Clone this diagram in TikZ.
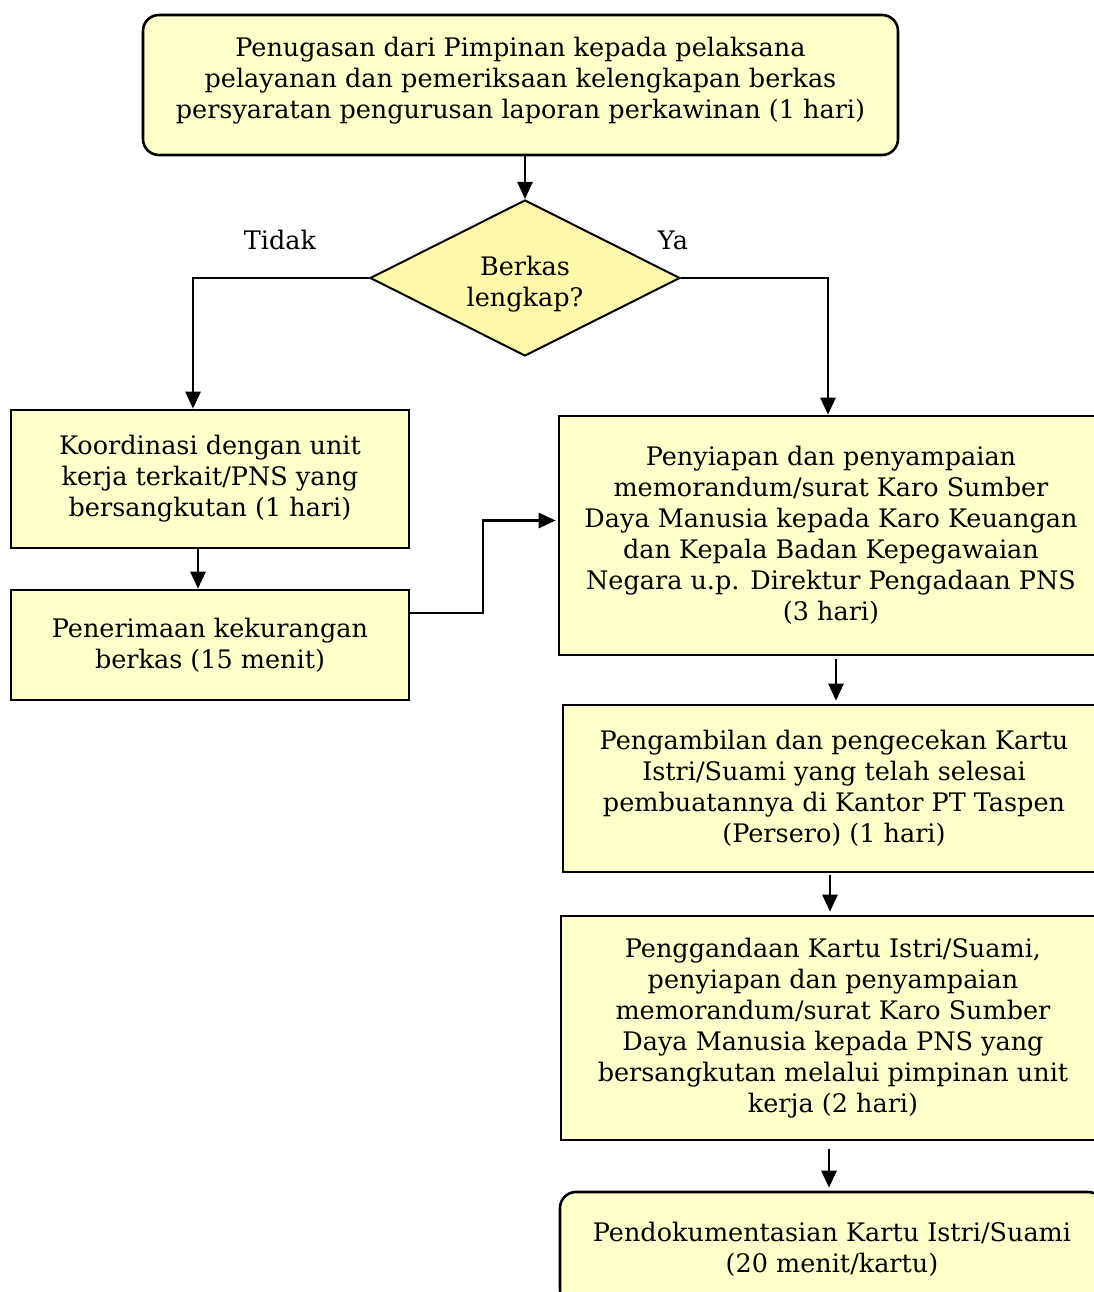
\documentclass[tikz,border=0pt]{standalone}
\usepackage{fontspec}
\setmainfont{DejaVu Serif}
\usetikzlibrary{arrows.meta,shapes.geometric}
\definecolor{boxfill}{RGB}{255,255,204}
\definecolor{dfill}{RGB}{255,248,170}
\newcommand{\diafont}{\fontsize{25.5}{31}\selectfont}
\tikzset{
  box/.style={draw=black, line width=2.6pt, fill=boxfill, align=center, inner sep=0pt,
    font=\diafont},
  rbox/.style={box, rounded corners=16pt},
  dec/.style={draw=black, line width=2pt, fill=dfill, diamond, aspect=2, inner sep=0pt},
  lab/.style={font=\diafont, inner sep=0pt, align=center},
  conn/.style={draw=black, line width=2.6pt, -{Triangle[length=17pt,width=15pt]}}
}
\begin{document}
\begin{tikzpicture}[x=1pt,y=-1pt]
\path[use as bounding box, clip] (0,0) rectangle (1094,1292);
\fill[white] (0,0) rectangle (1094,1292);

\node[rbox, minimum width=755pt, minimum height=140pt] (t) at (520.5,85) {};
\node[lab] (ttext) at (520.5,81)
  {Penugasan dari Pimpinan kepada pelaksana\\pelayanan dan pemeriksaan kelengkapan berkas\\persyaratan pengurusan laporan perkawinan (1 hari)};

\node[dec, minimum width=310pt, minimum height=156pt] (d) at (525,278) {};
\node[lab] (dtext) at (525,284) {Berkas\\lengkap?};

\node[lab] (tidak) at (280,240) {Tidak};
\node[lab] (ya) at (673,240) {Ya};

\node[box, minimum width=398pt, minimum height=138pt] (k) at (210,479)
  {Koordinasi dengan unit\\kerja terkait/PNS yang\\bersangkutan (1 hari)};
\node[box, minimum width=398pt, minimum height=110pt] (b2) at (210,645)
  {Penerimaan kekurangan\\berkas (15 menit)};

\node[box, minimum width=544pt, minimum height=239pt] (r1) at (831,535.5)
  {Penyiapan dan penyampaian\\memorandum/surat Karo Sumber\\Daya Manusia kepada Karo Keuangan\\dan Kepala Badan Kepegawaian\\Negara u.p. Direktur Pengadaan PNS\\(3 hari)};
\node[box, minimum width=542pt, minimum height=167pt] (r2) at (834,788.5)
  {Pengambilan dan pengecekan Kartu\\Istri/Suami yang telah selesai\\pembuatannya di Kantor PT Taspen\\(Persero) (1 hari)};
\node[box, minimum width=544pt, minimum height=224pt] (r3) at (833,1028)
  {Penggandaan Kartu Istri/Suami,\\penyiapan dan penyampaian\\memorandum/surat Karo Sumber\\Daya Manusia kepada PNS yang\\bersangkutan melalui pimpinan unit\\kerja (2 hari)};
\node[rbox, minimum width=544pt, minimum height=114pt] (r4) at (832,1249)
  {Pendokumentasian Kartu Istri/Suami\\(20 menit/kartu)};

% connectors
\draw[conn] (t.south -| d.north) -- (d.north);
\draw[conn] (d.west) -| ([xshift=-17pt]k.north);
\draw[conn] (d.east) -| ([xshift=-3pt]r1.north);
\draw[conn] ([xshift=-12pt]k.south) -- ([xshift=-12pt]b2.north);
\draw[conn] ([yshift=32pt]b2.east) -| (483,600) |- ([yshift=15pt, xshift=-2pt]r1.west);
\draw[conn, shorten <=3pt, shorten >=3pt] ([xshift=5pt]r1.south) -- ([xshift=5pt]r1.south |- r2.north);
\draw[conn, shorten <=2pt, shorten >=3pt] ([xshift=-4pt]r2.south) -- ([xshift=-4pt]r2.south |- r3.north);
\draw[conn, shorten <=8pt, shorten >=3pt] ([xshift=-4pt]r3.south) -- ([xshift=-4pt]r3.south |- r4.north);
\end{tikzpicture}
\end{document}
